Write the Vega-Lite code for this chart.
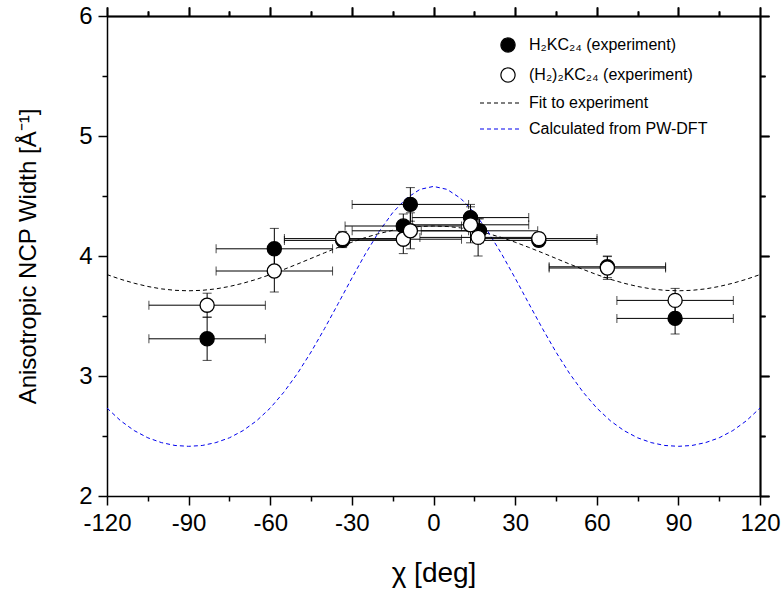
{
  "$schema": "https://vega.github.io/schema/vega-lite/v6.json",
  "autosize": "none",
  "width": 653,
  "height": 480,
  "padding": {"left": 107, "top": 16, "right": 22, "bottom": 105},
  "background": "white",
  "config": {
    "view": {"stroke": null},
    "font": "Liberation Sans",
    "axis": {"grid": false, "domainColor": "black", "domainWidth": 1.5, "tickColor": "black", "tickWidth": 1.5, "labelColor": "black", "titleColor": "black", "labelFont": "Liberation Sans", "titleFont": "Liberation Sans", "titleFontWeight": "normal", "labelFlush": false}
  },
  "datasets": {
    "pts": [
      {"series": "H₂KC₂₄ (experiment)", "x": -83.2, "y": 3.31, "xerr": 21.4, "yerr": 0.18},
      {"series": "H₂KC₂₄ (experiment)", "x": -58.5, "y": 4.06, "xerr": 21.4, "yerr": 0.17},
      {"series": "H₂KC₂₄ (experiment)", "x": -33.4, "y": 4.13, "xerr": 21.4, "yerr": 0.06},
      {"series": "H₂KC₂₄ (experiment)", "x": -11.1, "y": 4.25, "xerr": 21.4, "yerr": 0.10},
      {"series": "H₂KC₂₄ (experiment)", "x": -8.5, "y": 4.43, "xerr": 21.4, "yerr": 0.14},
      {"series": "H₂KC₂₄ (experiment)", "x": 13.6, "y": 4.32, "xerr": 21.4, "yerr": 0.11},
      {"series": "H₂KC₂₄ (experiment)", "x": 16.9, "y": 4.21, "xerr": 21.4, "yerr": 0.10},
      {"series": "H₂KC₂₄ (experiment)", "x": 38.7, "y": 4.13, "xerr": 21.4, "yerr": 0.05},
      {"series": "H₂KC₂₄ (experiment)", "x": 63.9, "y": 3.91, "xerr": 21.4, "yerr": 0.09},
      {"series": "H₂KC₂₄ (experiment)", "x": 88.8, "y": 3.48, "xerr": 21.4, "yerr": 0.13},
      {"series": "(H₂)₂KC₂₄ (experiment)", "x": -83.2, "y": 3.59, "xerr": 21.4, "yerr": 0.10},
      {"series": "(H₂)₂KC₂₄ (experiment)", "x": -58.5, "y": 3.875, "xerr": 21.4, "yerr": 0.175},
      {"series": "(H₂)₂KC₂₄ (experiment)", "x": -33.4, "y": 4.145, "xerr": 21.4, "yerr": 0.06},
      {"series": "(H₂)₂KC₂₄ (experiment)", "x": -11.1, "y": 4.14, "xerr": 21.4, "yerr": 0.12},
      {"series": "(H₂)₂KC₂₄ (experiment)", "x": -8.5, "y": 4.21, "xerr": 21.4, "yerr": 0.15},
      {"series": "(H₂)₂KC₂₄ (experiment)", "x": 13.6, "y": 4.26, "xerr": 21.4, "yerr": 0.15},
      {"series": "(H₂)₂KC₂₄ (experiment)", "x": 16.4, "y": 4.155, "xerr": 21.4, "yerr": 0.155},
      {"series": "(H₂)₂KC₂₄ (experiment)", "x": 38.7, "y": 4.145, "xerr": 21.4, "yerr": 0.05},
      {"series": "(H₂)₂KC₂₄ (experiment)", "x": 63.9, "y": 3.90, "xerr": 21.4, "yerr": 0.095},
      {"series": "(H₂)₂KC₂₄ (experiment)", "x": 88.8, "y": 3.63, "xerr": 21.4, "yerr": 0.10}
    ],
    "curves": [
      {"series": "Fit to experiment", "x": -120, "y": 3.845},
      {"series": "Fit to experiment", "x": -115, "y": 3.806},
      {"series": "Fit to experiment", "x": -110, "y": 3.773},
      {"series": "Fit to experiment", "x": -105, "y": 3.746},
      {"series": "Fit to experiment", "x": -100, "y": 3.726},
      {"series": "Fit to experiment", "x": -95, "y": 3.714},
      {"series": "Fit to experiment", "x": -90, "y": 3.71},
      {"series": "Fit to experiment", "x": -85, "y": 3.714},
      {"series": "Fit to experiment", "x": -80, "y": 3.726},
      {"series": "Fit to experiment", "x": -75, "y": 3.746},
      {"series": "Fit to experiment", "x": -70, "y": 3.773},
      {"series": "Fit to experiment", "x": -65, "y": 3.806},
      {"series": "Fit to experiment", "x": -60, "y": 3.845},
      {"series": "Fit to experiment", "x": -55, "y": 3.888},
      {"series": "Fit to experiment", "x": -50, "y": 3.933},
      {"series": "Fit to experiment", "x": -45, "y": 3.98},
      {"series": "Fit to experiment", "x": -40, "y": 4.027},
      {"series": "Fit to experiment", "x": -35, "y": 4.072},
      {"series": "Fit to experiment", "x": -30, "y": 4.115},
      {"series": "Fit to experiment", "x": -25, "y": 4.154},
      {"series": "Fit to experiment", "x": -20, "y": 4.187},
      {"series": "Fit to experiment", "x": -15, "y": 4.214},
      {"series": "Fit to experiment", "x": -10, "y": 4.234},
      {"series": "Fit to experiment", "x": -5, "y": 4.246},
      {"series": "Fit to experiment", "x": 0, "y": 4.25},
      {"series": "Fit to experiment", "x": 5, "y": 4.246},
      {"series": "Fit to experiment", "x": 10, "y": 4.234},
      {"series": "Fit to experiment", "x": 15, "y": 4.214},
      {"series": "Fit to experiment", "x": 20, "y": 4.187},
      {"series": "Fit to experiment", "x": 25, "y": 4.154},
      {"series": "Fit to experiment", "x": 30, "y": 4.115},
      {"series": "Fit to experiment", "x": 35, "y": 4.072},
      {"series": "Fit to experiment", "x": 40, "y": 4.027},
      {"series": "Fit to experiment", "x": 45, "y": 3.98},
      {"series": "Fit to experiment", "x": 50, "y": 3.933},
      {"series": "Fit to experiment", "x": 55, "y": 3.888},
      {"series": "Fit to experiment", "x": 60, "y": 3.845},
      {"series": "Fit to experiment", "x": 65, "y": 3.806},
      {"series": "Fit to experiment", "x": 70, "y": 3.773},
      {"series": "Fit to experiment", "x": 75, "y": 3.746},
      {"series": "Fit to experiment", "x": 80, "y": 3.726},
      {"series": "Fit to experiment", "x": 85, "y": 3.714},
      {"series": "Fit to experiment", "x": 90, "y": 3.71},
      {"series": "Fit to experiment", "x": 95, "y": 3.714},
      {"series": "Fit to experiment", "x": 100, "y": 3.726},
      {"series": "Fit to experiment", "x": 105, "y": 3.746},
      {"series": "Fit to experiment", "x": 110, "y": 3.773},
      {"series": "Fit to experiment", "x": 115, "y": 3.806},
      {"series": "Fit to experiment", "x": 120, "y": 3.845},
      {"series": "Calculated from PW-DFT", "x": -120, "y": 2.733},
      {"series": "Calculated from PW-DFT", "x": -115, "y": 2.627},
      {"series": "Calculated from PW-DFT", "x": -110, "y": 2.545},
      {"series": "Calculated from PW-DFT", "x": -105, "y": 2.485},
      {"series": "Calculated from PW-DFT", "x": -100, "y": 2.445},
      {"series": "Calculated from PW-DFT", "x": -95, "y": 2.421},
      {"series": "Calculated from PW-DFT", "x": -90, "y": 2.414},
      {"series": "Calculated from PW-DFT", "x": -85, "y": 2.421},
      {"series": "Calculated from PW-DFT", "x": -80, "y": 2.445},
      {"series": "Calculated from PW-DFT", "x": -75, "y": 2.485},
      {"series": "Calculated from PW-DFT", "x": -70, "y": 2.545},
      {"series": "Calculated from PW-DFT", "x": -65, "y": 2.627},
      {"series": "Calculated from PW-DFT", "x": -60, "y": 2.733},
      {"series": "Calculated from PW-DFT", "x": -55, "y": 2.865},
      {"series": "Calculated from PW-DFT", "x": -50, "y": 3.021},
      {"series": "Calculated from PW-DFT", "x": -45, "y": 3.2},
      {"series": "Calculated from PW-DFT", "x": -40, "y": 3.397},
      {"series": "Calculated from PW-DFT", "x": -35, "y": 3.605},
      {"series": "Calculated from PW-DFT", "x": -30, "y": 3.816},
      {"series": "Calculated from PW-DFT", "x": -25, "y": 4.019},
      {"series": "Calculated from PW-DFT", "x": -20, "y": 4.204},
      {"series": "Calculated from PW-DFT", "x": -15, "y": 4.361},
      {"series": "Calculated from PW-DFT", "x": -10, "y": 4.48},
      {"series": "Calculated from PW-DFT", "x": -5, "y": 4.555},
      {"series": "Calculated from PW-DFT", "x": 0, "y": 4.58},
      {"series": "Calculated from PW-DFT", "x": 5, "y": 4.555},
      {"series": "Calculated from PW-DFT", "x": 10, "y": 4.48},
      {"series": "Calculated from PW-DFT", "x": 15, "y": 4.361},
      {"series": "Calculated from PW-DFT", "x": 20, "y": 4.204},
      {"series": "Calculated from PW-DFT", "x": 25, "y": 4.019},
      {"series": "Calculated from PW-DFT", "x": 30, "y": 3.816},
      {"series": "Calculated from PW-DFT", "x": 35, "y": 3.605},
      {"series": "Calculated from PW-DFT", "x": 40, "y": 3.397},
      {"series": "Calculated from PW-DFT", "x": 45, "y": 3.2},
      {"series": "Calculated from PW-DFT", "x": 50, "y": 3.021},
      {"series": "Calculated from PW-DFT", "x": 55, "y": 2.865},
      {"series": "Calculated from PW-DFT", "x": 60, "y": 2.733},
      {"series": "Calculated from PW-DFT", "x": 65, "y": 2.627},
      {"series": "Calculated from PW-DFT", "x": 70, "y": 2.545},
      {"series": "Calculated from PW-DFT", "x": 75, "y": 2.485},
      {"series": "Calculated from PW-DFT", "x": 80, "y": 2.445},
      {"series": "Calculated from PW-DFT", "x": 85, "y": 2.421},
      {"series": "Calculated from PW-DFT", "x": 90, "y": 2.414},
      {"series": "Calculated from PW-DFT", "x": 95, "y": 2.421},
      {"series": "Calculated from PW-DFT", "x": 100, "y": 2.445},
      {"series": "Calculated from PW-DFT", "x": 105, "y": 2.485},
      {"series": "Calculated from PW-DFT", "x": 110, "y": 2.545},
      {"series": "Calculated from PW-DFT", "x": 115, "y": 2.627},
      {"series": "Calculated from PW-DFT", "x": 120, "y": 2.733}
    ]
  },
  "layer": [
    {
      "data": {"name": "curves"},
      "mark": {"type": "line", "strokeWidth": 1, "clip": true},
      "encoding": {
        "x": {"field": "x", "type": "quantitative", "scale": {"domain": [-120, 120], "nice": false, "zero": false},
          "axis": {"orient": "bottom", "title": "χ [deg]", "titleFontSize": 28, "titlePadding": 24, "labelFontSize": 24, "labelPadding": 6,
            "values": [-120, -105, -90, -75, -60, -45, -30, -15, 0, 15, 30, 45, 60, 75, 90, 105, 120],
            "labelExpr": "datum.value % 30 === 0 ? '' + datum.value : ''",
            "tickSize": {"condition": {"test": "datum.value % 30 !== 0", "value": 5}, "value": 9}}},
        "y": {"field": "y", "type": "quantitative", "scale": {"domain": [2, 6], "nice": false, "zero": false},
          "axis": {"orient": "left", "title": "Anisotropic NCP Width [Å⁻¹]", "titleFontSize": 24, "titlePadding": 38, "labelFontSize": 24, "labelPadding": 6,
            "values": [2, 2.5, 3, 3.5, 4, 4.5, 5, 5.5, 6],
            "labelExpr": "datum.value % 1 === 0 ? '' + datum.value : ''",
            "tickSize": {"condition": {"test": "datum.value % 1 !== 0", "value": 5}, "value": 9}}},
        "stroke": {"field": "series", "type": "nominal",
          "scale": {"domain": ["H₂KC₂₄ (experiment)", "(H₂)₂KC₂₄ (experiment)", "Fit to experiment", "Calculated from PW-DFT"], "range": ["black", "black", "black", "#0000ee"]},
          "legend": {"orient": "none", "legendX": 394, "legendY": 21, "title": null, "labelFontSize": 16, "labelFont": "Liberation Sans", "labelColor": "black", "symbolStrokeWidth": 1.2, "rowPadding": 10, "labelOffset": 12, "labelLimit": 400,
            "encode": {"symbols": {"update": {
              "size": {"signal": "datum.value === 'Fit to experiment' || datum.value === 'Calculated from PW-DFT' ? 1600 : 200"},
              "xc": {"signal": "datum.value === 'Fit to experiment' || datum.value === 'Calculated from PW-DFT' ? -1 : 7"}}}}}},
        "strokeDash": {"field": "series", "type": "nominal",
          "scale": {"domain": ["H₂KC₂₄ (experiment)", "(H₂)₂KC₂₄ (experiment)", "Fit to experiment", "Calculated from PW-DFT"], "range": [[1, 0], [1, 0], [4, 3], [4, 3]]}},
        "detail": {"field": "series"}
      }
    },
    {
      "data": {"name": "pts"},
      "mark": {"type": "errorbar", "ticks": {"size": 9}, "color": "black", "thickness": 1},
      "encoding": {
        "x": {"field": "x", "type": "quantitative",
          "axis": {"orient": "top", "labels": false, "title": null,
            "values": [-120, -105, -90, -75, -60, -45, -30, -15, 0, 15, 30, 45, 60, 75, 90, 105, 120],
            "tickSize": {"condition": {"test": "datum.value % 30 !== 0", "value": 5}, "value": 9}}},
        "xError": {"field": "xerr"},
        "y": {"field": "y", "type": "quantitative",
          "axis": {"orient": "right", "labels": false, "title": null,
            "values": [2, 2.5, 3, 3.5, 4, 4.5, 5, 5.5, 6],
            "tickSize": {"condition": {"test": "datum.value % 1 !== 0", "value": 5}, "value": 9}}}
      }
    },
    {
      "data": {"name": "pts"},
      "mark": {"type": "errorbar", "ticks": {"size": 9}, "color": "black", "thickness": 1},
      "encoding": {
        "y": {"field": "y", "type": "quantitative",
          "axis": {"orient": "right", "labels": false, "title": null,
            "values": [2, 2.5, 3, 3.5, 4, 4.5, 5, 5.5, 6],
            "tickSize": {"condition": {"test": "datum.value % 1 !== 0", "value": 5}, "value": 9}}},
        "yError": {"field": "yerr"},
        "x": {"field": "x", "type": "quantitative",
          "axis": {"orient": "top", "labels": false, "title": null,
            "values": [-120, -105, -90, -75, -60, -45, -30, -15, 0, 15, 30, 45, 60, 75, 90, 105, 120],
            "tickSize": {"condition": {"test": "datum.value % 30 !== 0", "value": 5}, "value": 9}}}
      }
    },
    {
      "data": {"name": "pts"},
      "mark": {"type": "point", "filled": false, "opacity": 1, "strokeWidth": 1.3, "size": 200},
      "encoding": {
        "x": {"field": "x", "type": "quantitative",
          "axis": {"orient": "top", "labels": false, "title": null,
            "values": [-120, -105, -90, -75, -60, -45, -30, -15, 0, 15, 30, 45, 60, 75, 90, 105, 120],
            "tickSize": {"condition": {"test": "datum.value % 30 !== 0", "value": 5}, "value": 9}}},
        "y": {"field": "y", "type": "quantitative",
          "axis": {"orient": "right", "labels": false, "title": null,
            "values": [2, 2.5, 3, 3.5, 4, 4.5, 5, 5.5, 6],
            "tickSize": {"condition": {"test": "datum.value % 1 !== 0", "value": 5}, "value": 9}}},
        "fill": {"field": "series", "type": "nominal",
          "scale": {"domain": ["H₂KC₂₄ (experiment)", "(H₂)₂KC₂₄ (experiment)", "Fit to experiment", "Calculated from PW-DFT"], "range": ["black", "white", "white", "white"]}},
        "stroke": {"field": "series", "type": "nominal"},
        "shape": {"field": "series", "type": "nominal",
          "scale": {"domain": ["H₂KC₂₄ (experiment)", "(H₂)₂KC₂₄ (experiment)", "Fit to experiment", "Calculated from PW-DFT"], "range": ["circle", "circle", "stroke", "stroke"]}}
      }
    }
  ],
  "encoding": {}
}
